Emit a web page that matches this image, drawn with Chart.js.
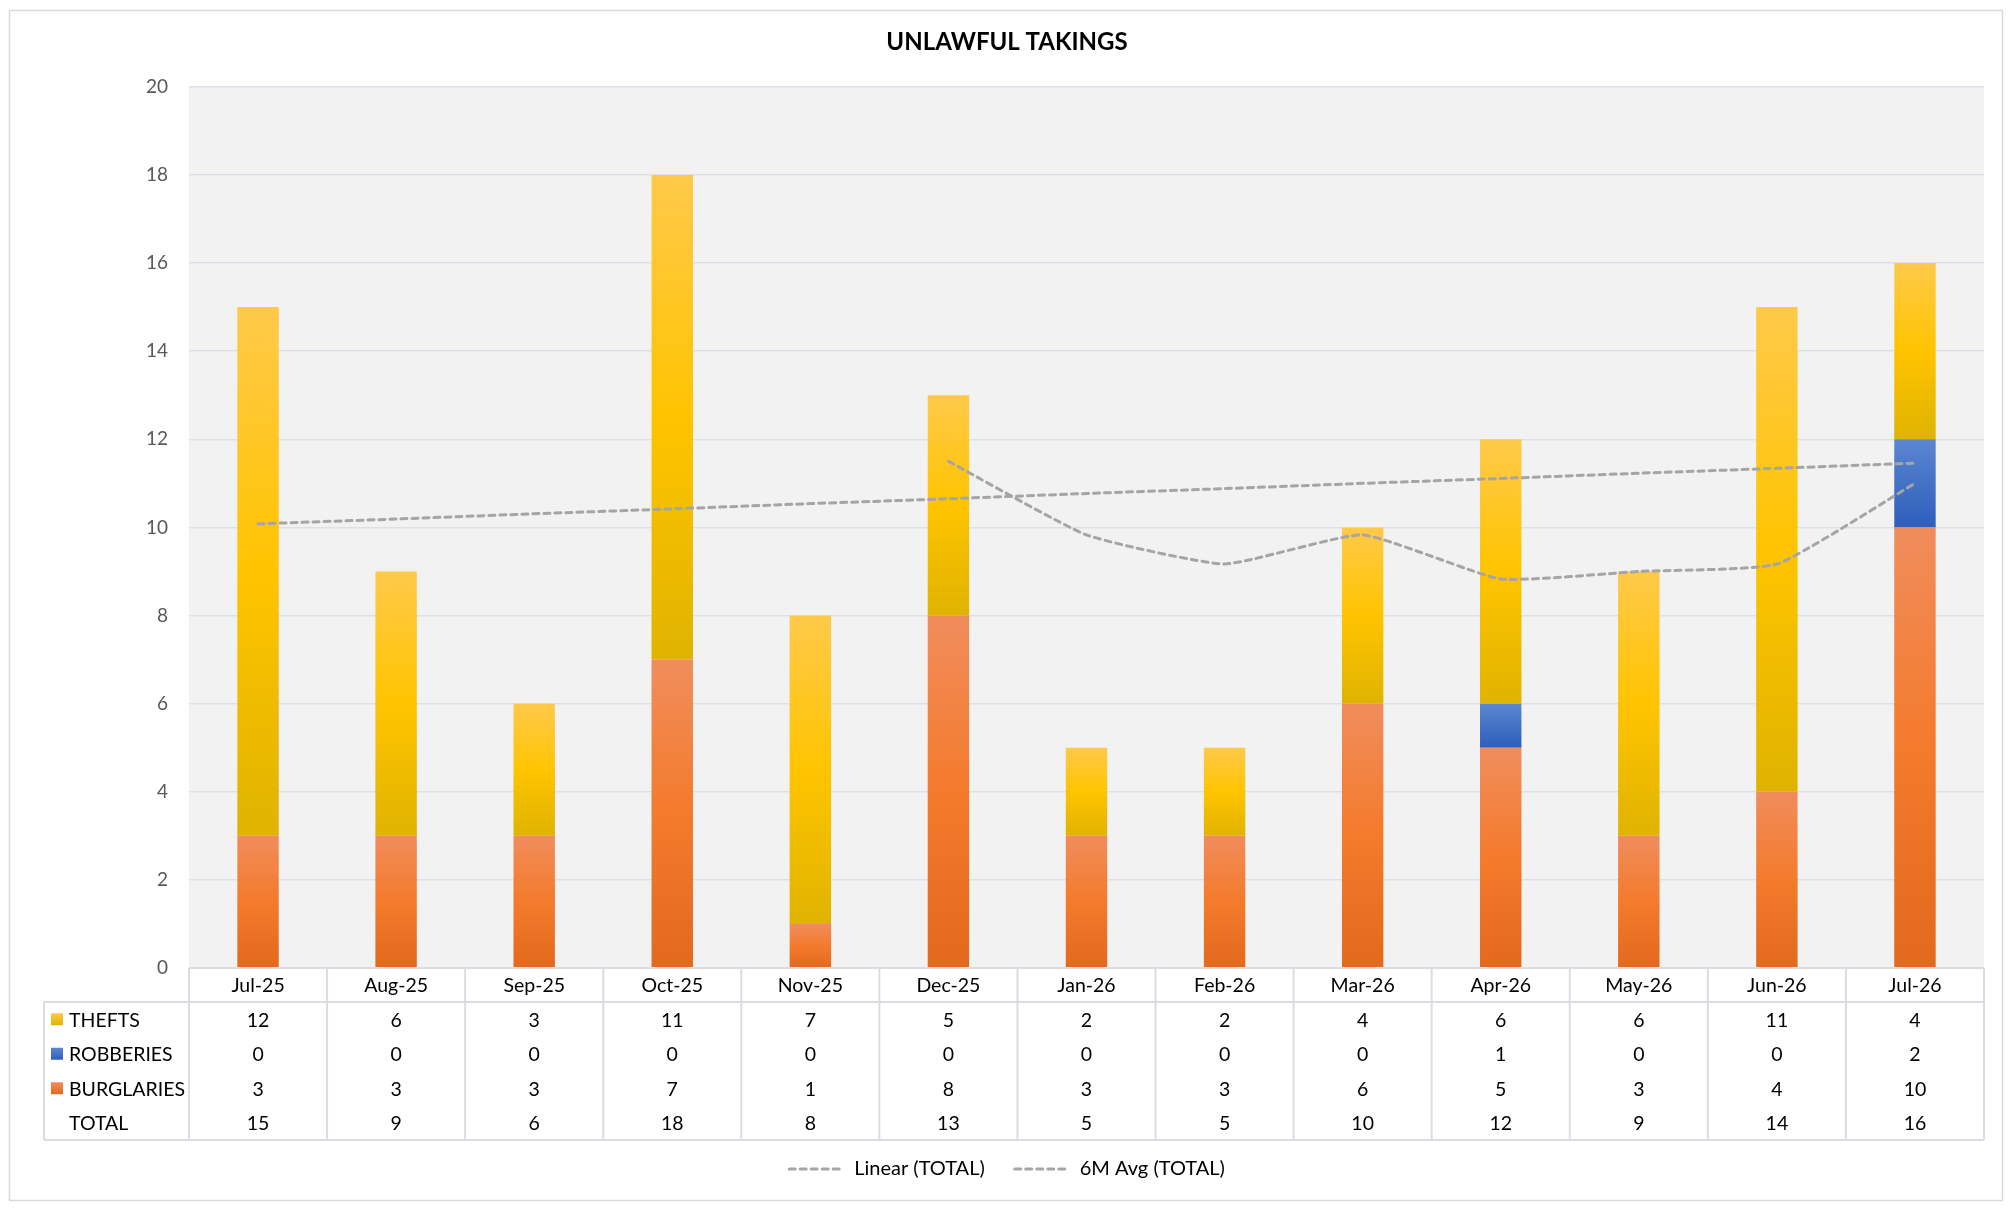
<!DOCTYPE html>
<html>
<head>
<meta charset="utf-8">
<title>Unlawful Takings</title>
<script src="https://cdn.jsdelivr.net/npm/chart.js@4.4.0/dist/chart.umd.min.js"></script>
<style>
    html, body { margin: 0; padding: 0; background: #ffffff; }
    #wrap { position: relative; width: 2014px; height: 1212px; }
</style>
</head>
<body>
<div id="wrap"><canvas id="takingsChart"></canvas></div>
<script>
const months = ['Jul-25', 'Aug-25', 'Sep-25', 'Oct-25', 'Nov-25', 'Dec-25', 'Jan-26', 'Feb-26', 'Mar-26', 'Apr-26', 'May-26', 'Jun-26', 'Jul-26'];
const thefts = [12, 6, 3, 11, 7, 5, 2, 2, 4, 6, 6, 11, 4];
const robberies = [0, 0, 0, 0, 0, 0, 0, 0, 0, 1, 0, 0, 2];
const burglaries = [3, 3, 3, 7, 1, 8, 3, 3, 6, 5, 3, 4, 10];
const totals = [15, 9, 6, 18, 8, 13, 5, 5, 10, 12, 9, 14, 16];
// trend lines
const linearTotal = [10.08, 10.19, 10.31, 10.42, 10.54, 10.65, 10.77, 10.88, 11.0, 11.11, 11.23, 11.34, 11.46];
const avg6mTotal = [null, null, null, null, null, 11.5, 9.83, 9.17, 9.83, 8.83, 9.0, 9.17, 11.0];
const yTicks = [0, 2, 4, 6, 8, 10, 12, 14, 16, 18, 20];

const FONT = 'Lato, "Open Sans", sans-serif';
const THEFT_COLORS = ['#ffc94a', '#ffc400', '#e0b300'];
const ROBBERY_COLORS = ['#5b87d2', '#4472c4', '#2f5ebd'];
const BURGLARY_COLORS = ['#f08d5c', '#f47a2c', '#e2691d'];
const TREND_DASH = [6, 5];

const HEADER_H = 34;
const ROW_H = 34.5;
const TABLE_LEFT = 44;
const PAD_SIDE = 30;

// gradient per bar segment, computed from the stacked values
function gradientFill(stops) {
    return function (ctx) {
        const chart = ctx.chart;
        if (ctx.type !== 'data' || !chart.chartArea) return stops[1];
        const y = chart.scales.y;
        const i = ctx.dataIndex;
        let base = 0;
        for (let d = 0; d < ctx.datasetIndex; d++) base += chart.data.datasets[d].data[i] || 0;
        const val = chart.data.datasets[ctx.datasetIndex].data[i] || 0;
        const yTop = y.getPixelForValue(base + val);
        const yBot = y.getPixelForValue(base);
        if (!isFinite(yTop) || yBot - yTop < 1) return stops[1];
        const g = chart.ctx.createLinearGradient(0, yTop, 0, yBot);
        g.addColorStop(0, stops[0]);
        g.addColorStop(0.5, stops[1]);
        g.addColorStop(1, stops[2]);
        return g;
    };
}

const tableRows = [
    { label: 'THEFTS', values: thefts, colors: THEFT_COLORS },
    { label: 'ROBBERIES', values: robberies, colors: ROBBERY_COLORS },
    { label: 'BURGLARIES', values: burglaries, colors: BURGLARY_COLORS },
    { label: 'TOTAL', values: totals, colors: null }
];

const framePlugin = {
    id: 'frame',
    beforeDraw(chart) {
        const { ctx, chartArea } = chart;
        ctx.save();
        ctx.fillStyle = '#f2f2f2';
        ctx.fillRect(chartArea.left, chartArea.top, chartArea.right - chartArea.left, chartArea.bottom - chartArea.top);
        ctx.strokeStyle = '#d9d9d9';
        ctx.lineWidth = 1.5;
        ctx.strokeRect(9.5, 10.5, 1993, 1190);
        ctx.restore();
    }
};

// data table under the x axis
const dataTablePlugin = {
    id: 'dataTable',
    afterDraw(chart) {
        const { ctx, chartArea } = chart;
        const xScale = chart.scales.x;
        const top = chartArea.bottom;
        const rowsTop = top + HEADER_H;
        const bottom = rowsTop + ROW_H * tableRows.length;
        const colW = (chartArea.right - chartArea.left) / months.length;

        ctx.save();
        ctx.strokeStyle = '#d9dde3';
        ctx.lineWidth = 2;
        ctx.beginPath();
        ctx.moveTo(chartArea.left, top);
        ctx.lineTo(chartArea.right, top);
        ctx.moveTo(TABLE_LEFT, rowsTop);
        ctx.lineTo(chartArea.right, rowsTop);
        ctx.moveTo(TABLE_LEFT, bottom);
        ctx.lineTo(chartArea.right, bottom);
        ctx.moveTo(TABLE_LEFT, rowsTop);
        ctx.lineTo(TABLE_LEFT, bottom);
        for (let c = 0; c <= months.length; c++) {
            const x = chartArea.left + c * colW;
            ctx.moveTo(x, top);
            ctx.lineTo(x, bottom);
        }
        ctx.stroke();

        ctx.font = '19.5px ' + FONT;
        ctx.textBaseline = 'middle';
        tableRows.forEach((row, r) => {
            const cy = rowsTop + ROW_H * (r + 0.5);
            if (row.colors) {
                const g = ctx.createLinearGradient(0, cy - 6, 0, cy + 6);
                g.addColorStop(0, row.colors[0]);
                g.addColorStop(1, row.colors[2]);
                ctx.fillStyle = g;
                ctx.fillRect(51, cy - 6, 12, 12);
            }
            ctx.fillStyle = '#000000';
            ctx.textAlign = 'left';
            ctx.fillText(row.label, 69, cy + 1);
            ctx.textAlign = 'center';
            row.values.forEach((v, i) => {
                ctx.fillText(String(v), xScale.getPixelForValue(i), cy + 1);
            });
        });
        ctx.restore();
    }
};

const ctx = document.getElementById('takingsChart').getContext('2d');
new Chart(ctx, {
    type: 'bar',
    data: {
        labels: months,
        datasets: [
            {
                label: 'BURGLARIES',
                data: burglaries,
                backgroundColor: gradientFill(BURGLARY_COLORS),
                barPercentage: 0.3,
                categoryPercentage: 1
            },
            {
                label: 'ROBBERIES',
                data: robberies,
                backgroundColor: gradientFill(ROBBERY_COLORS),
                barPercentage: 0.3,
                categoryPercentage: 1
            },
            {
                label: 'THEFTS',
                data: thefts,
                backgroundColor: gradientFill(THEFT_COLORS),
                barPercentage: 0.3,
                categoryPercentage: 1
            },
            {
                type: 'line',
                label: 'Linear (TOTAL)',
                data: linearTotal,
                stack: 'linear',
                order: -1,
                borderColor: '#a5a5a5',
                borderWidth: 3,
                borderDash: TREND_DASH,
                borderCapStyle: 'round',
                pointRadius: 0,
                tension: 0
            },
            {
                type: 'line',
                label: '6M Avg (TOTAL)',
                data: avg6mTotal,
                stack: 'avg',
                order: -1,
                borderColor: '#a5a5a5',
                borderWidth: 3,
                borderDash: TREND_DASH,
                borderCapStyle: 'round',
                pointRadius: 0,
                tension: 0.15
            }
        ]
    },
    options: {
        responsive: true,
        maintainAspectRatio: false,
        animation: false,
        layout: {
            padding: { top: 10, left: PAD_SIDE, right: PAD_SIDE, bottom: 23 }
        },
        scales: {
            x: {
                stacked: true,
                grid: { display: false, drawTicks: false },
                border: { display: false },
                ticks: {
                    color: '#000000',
                    padding: 6,
                    maxRotation: 0,
                    font: { family: FONT, size: 19.5 }
                },
                afterFit(scale) {
                    // legend padding sits over the last few px of the table
                    scale.height = HEADER_H + ROW_H * tableRows.length - 11;
                }
            },
            y: {
                stacked: true,
                min: 0,
                max: 20,
                afterBuildTicks(scale) {
                    scale.ticks = yTicks.map(v => ({ value: v }));
                },
                grid: { color: '#dde1e7', lineWidth: 1.5, drawTicks: false },
                border: { display: false },
                ticks: {
                    color: '#595959',
                    padding: 21,
                    font: { family: FONT, size: 19 }
                },
                afterFit(scale) {
                    scale.width = 189 - PAD_SIDE;
                }
            }
        },
        plugins: {
            title: {
                display: true,
                text: 'UNLAWFUL TAKINGS',
                color: '#000000',
                font: { family: FONT, size: 24, weight: 'bold' },
                padding: { top: 18, bottom: 30 }
            },
            legend: {
                position: 'bottom',
                labels: {
                    usePointStyle: true,
                    pointStyle: 'line',
                    pointStyleWidth: 55,
                    color: '#000000',
                    padding: 30,
                    font: { family: FONT, size: 20 },
                    generateLabels(chart) {
                        const items = Chart.defaults.plugins.legend.labels.generateLabels(chart);
                        return items
                            .filter(item => item.datasetIndex >= 3)
                            .map(item => {
                                const ds = chart.data.datasets[item.datasetIndex];
                                item.lineDash = ds.borderDash;
                                item.lineCap = ds.borderCapStyle;
                                item.strokeStyle = ds.borderColor;
                                item.lineWidth = ds.borderWidth;
                                return item;
                            });
                    }
                }
            },
            tooltip: { enabled: false }
        }
    },
    plugins: [framePlugin, dataTablePlugin]
});
</script>
</body>
</html>
